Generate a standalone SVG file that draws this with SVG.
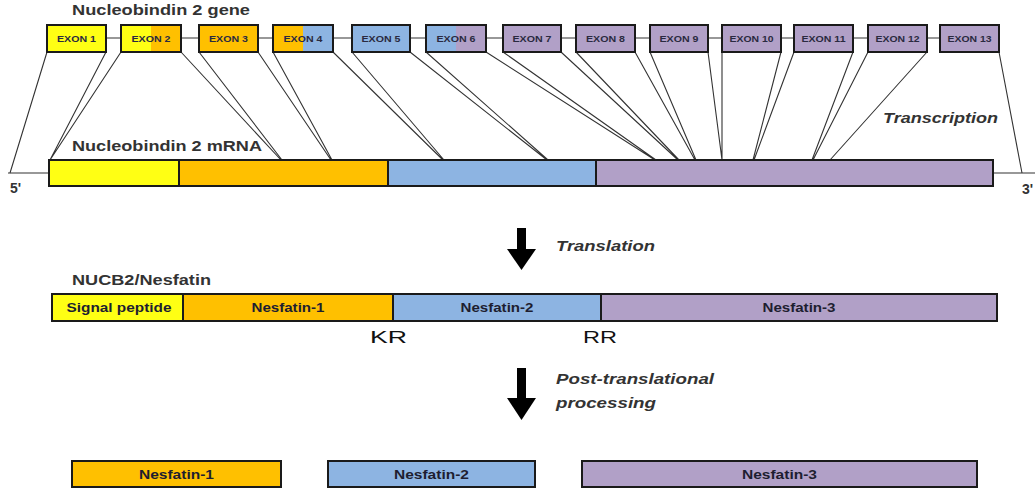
<svg xmlns="http://www.w3.org/2000/svg" width="1035" height="492" viewBox="0 0 1035 492">
<style>
text{font-family:"Liberation Sans",Arial,sans-serif;font-weight:bold;fill:#222}
.ttl{font-size:15px;fill:#333}
.ex{font-size:9.5px;text-anchor:middle;fill:#2a2a40}
.lbl{font-size:12.5px;text-anchor:middle;fill:#1e1e30}
.it{font-size:15px;font-style:italic;fill:#333}
.kr{font-size:17px;font-weight:normal;fill:#111}
.box{fill:none;stroke:#1a1a1a;stroke-width:2}
.map{stroke:#333;stroke-width:1.1;fill:none}
.y{fill:#FFFF14}.o{fill:#FFC000}.b{fill:#8DB4E2}.p{fill:#B1A0C7}
</style>
<text class="ttl" x="72" y="15" textLength="178" lengthAdjust="spacingAndGlyphs">Nucleobindin 2 gene</text>
<g id="connectors">
<line class="map" x1="106" y1="38" x2="940" y2="38" stroke-width="1.6"/>
<line class="map" x1="8" y1="173" x2="49" y2="173"/>
<line class="map" x1="993" y1="173" x2="1035" y2="173"/>
<path class="map" d="M47,52L10,173M106,52L50,160M121,52L50,160M181,52L281,160M199,52L282,160M258,52L331,160M273,52L332,160M333,52L443,160M352,52L444,160M410,52L547,160M426,52L548,160M486,52L655,160M503,52L656,160M561,52L678,160M576,52L679,160M635,52L695,160M650,52L696,160M708,52L722,160M722,52L722,160M781,52L753,160M794,52L754,160M853,52L812,160M868,52L813,160M927,52L830,160M999,52L1022,173"/>
<g id="arrow-translation"><rect x="517" y="228" width="9" height="24" fill="#000"/><path d="M507,249 L536,249 L521.5,270 z" fill="#000"/></g>
<g id="arrow-processing"><rect x="517" y="368" width="9" height="32" fill="#000"/><path d="M507,398 L536,398 L521.5,420 z" fill="#000"/></g>
</g>
<g id="exons">
<g id="exon1"><rect class="y" x="47" y="25" width="59" height="27"/><rect class="box" x="47" y="25" width="59" height="27"/><text class="ex" x="76.5" y="42" textLength="39" lengthAdjust="spacingAndGlyphs">EXON 1</text></g>
<g id="exon2"><rect class="y" x="121" y="25" width="30" height="27"/><rect class="o" x="151" y="25" width="30" height="27"/><rect class="box" x="121" y="25" width="60" height="27"/><text class="ex" x="151" y="42" textLength="39" lengthAdjust="spacingAndGlyphs">EXON 2</text></g>
<g id="exon3"><rect class="o" x="199" y="25" width="59" height="27"/><rect class="box" x="199" y="25" width="59" height="27"/><text class="ex" x="228.5" y="42" textLength="39" lengthAdjust="spacingAndGlyphs">EXON 3</text></g>
<g id="exon4"><rect class="o" x="273" y="25" width="30" height="27"/><rect class="b" x="303" y="25" width="30" height="27"/><rect class="box" x="273" y="25" width="60" height="27"/><text class="ex" x="303" y="42" textLength="39" lengthAdjust="spacingAndGlyphs">EXON 4</text></g>
<g id="exon5"><rect class="b" x="352" y="25" width="58" height="27"/><rect class="box" x="352" y="25" width="58" height="27"/><text class="ex" x="381" y="42" textLength="39" lengthAdjust="spacingAndGlyphs">EXON 5</text></g>
<g id="exon6"><rect class="b" x="426" y="25" width="30" height="27"/><rect class="p" x="456" y="25" width="30" height="27"/><rect class="box" x="426" y="25" width="60" height="27"/><text class="ex" x="456" y="42" textLength="39" lengthAdjust="spacingAndGlyphs">EXON 6</text></g>
<g id="exon7"><rect class="p" x="503" y="25" width="58" height="27"/><rect class="box" x="503" y="25" width="58" height="27"/><text class="ex" x="532" y="42" textLength="39" lengthAdjust="spacingAndGlyphs">EXON 7</text></g>
<g id="exon8"><rect class="p" x="576" y="25" width="59" height="27"/><rect class="box" x="576" y="25" width="59" height="27"/><text class="ex" x="605.5" y="42" textLength="39" lengthAdjust="spacingAndGlyphs">EXON 8</text></g>
<g id="exon9"><rect class="p" x="650" y="25" width="58" height="27"/><rect class="box" x="650" y="25" width="58" height="27"/><text class="ex" x="679" y="42" textLength="39" lengthAdjust="spacingAndGlyphs">EXON 9</text></g>
<g id="exon10"><rect class="p" x="722" y="25" width="59" height="27"/><rect class="box" x="722" y="25" width="59" height="27"/><text class="ex" x="751.5" y="42" textLength="44" lengthAdjust="spacingAndGlyphs">EXON 10</text></g>
<g id="exon11"><rect class="p" x="794" y="25" width="59" height="27"/><rect class="box" x="794" y="25" width="59" height="27"/><text class="ex" x="823.5" y="42" textLength="44" lengthAdjust="spacingAndGlyphs">EXON 11</text></g>
<g id="exon12"><rect class="p" x="868" y="25" width="59" height="27"/><rect class="box" x="868" y="25" width="59" height="27"/><text class="ex" x="897.5" y="42" textLength="44" lengthAdjust="spacingAndGlyphs">EXON 12</text></g>
<g id="exon13"><rect class="p" x="940" y="25" width="59" height="27"/><rect class="box" x="940" y="25" width="59" height="27"/><text class="ex" x="969.5" y="42" textLength="44" lengthAdjust="spacingAndGlyphs">EXON 13</text></g>
</g>
<text class="ttl" x="72" y="151" textLength="190" lengthAdjust="spacingAndGlyphs">Nucleobindin 2 mRNA</text>
<text class="it" x="883" y="123" textLength="115" lengthAdjust="spacingAndGlyphs">Transcription</text>
<g id="mrna">
<rect class="y" x="49" y="160" width="130" height="26"/>
<rect class="o" x="179" y="160" width="209" height="26"/>
<rect class="b" x="388" y="160" width="208" height="26"/>
<rect class="p" x="596" y="160" width="397" height="26"/>
<path class="box" d="M179,160V186M388,160V186M596,160V186"/>
<rect class="box" x="49" y="160" width="944" height="26"/>
<text class="ttl" x="10" y="193" style="font-size:14px">5'</text>
<text class="ttl" x="1022" y="194" style="font-size:14px">3'</text>
</g>
<text class="it" x="556" y="251" textLength="99" lengthAdjust="spacingAndGlyphs">Translation</text>
<text class="ttl" x="72" y="285" textLength="139" lengthAdjust="spacingAndGlyphs">NUCB2/Nesfatin</text>
<g id="protein">
<rect class="y" x="52" y="294" width="131" height="27"/>
<rect class="o" x="183" y="294" width="210" height="27"/>
<rect class="b" x="393" y="294" width="208" height="27"/>
<rect class="p" x="601" y="294" width="396" height="27"/>
<path class="box" d="M183,294V321M393,294V321M601,294V321"/>
<rect class="box" x="52" y="294" width="945" height="27"/>
<text class="lbl" x="119" y="312" textLength="105" lengthAdjust="spacingAndGlyphs">Signal peptide</text>
<text class="lbl" x="288" y="312" textLength="73" lengthAdjust="spacingAndGlyphs">Nesfatin-1</text>
<text class="lbl" x="497" y="312" textLength="73" lengthAdjust="spacingAndGlyphs">Nesfatin-2</text>
<text class="lbl" x="799" y="312" textLength="73" lengthAdjust="spacingAndGlyphs">Nesfatin-3</text>
<text class="kr" x="370" y="343" textLength="37" lengthAdjust="spacingAndGlyphs">KR</text>
<text class="kr" x="583" y="343" textLength="34" lengthAdjust="spacingAndGlyphs">RR</text>
</g>
<text class="it" x="556" y="384" textLength="158" lengthAdjust="spacingAndGlyphs">Post-translational</text>
<text class="it" x="556" y="408" textLength="100" lengthAdjust="spacingAndGlyphs">processing</text>
<g id="nesfatin1"><rect class="o" x="72" y="461" width="209" height="26"/><rect class="box" x="72" y="461" width="209" height="26"/><text class="lbl" x="176.5" y="479" textLength="75" lengthAdjust="spacingAndGlyphs">Nesfatin-1</text></g>
<g id="nesfatin2"><rect class="b" x="328" y="461" width="207" height="26"/><rect class="box" x="328" y="461" width="207" height="26"/><text class="lbl" x="431.5" y="479" textLength="75" lengthAdjust="spacingAndGlyphs">Nesfatin-2</text></g>
<g id="nesfatin3"><rect class="p" x="582" y="461" width="395" height="26"/><rect class="box" x="582" y="461" width="395" height="26"/><text class="lbl" x="779.5" y="479" textLength="75" lengthAdjust="spacingAndGlyphs">Nesfatin-3</text></g>
</svg>
